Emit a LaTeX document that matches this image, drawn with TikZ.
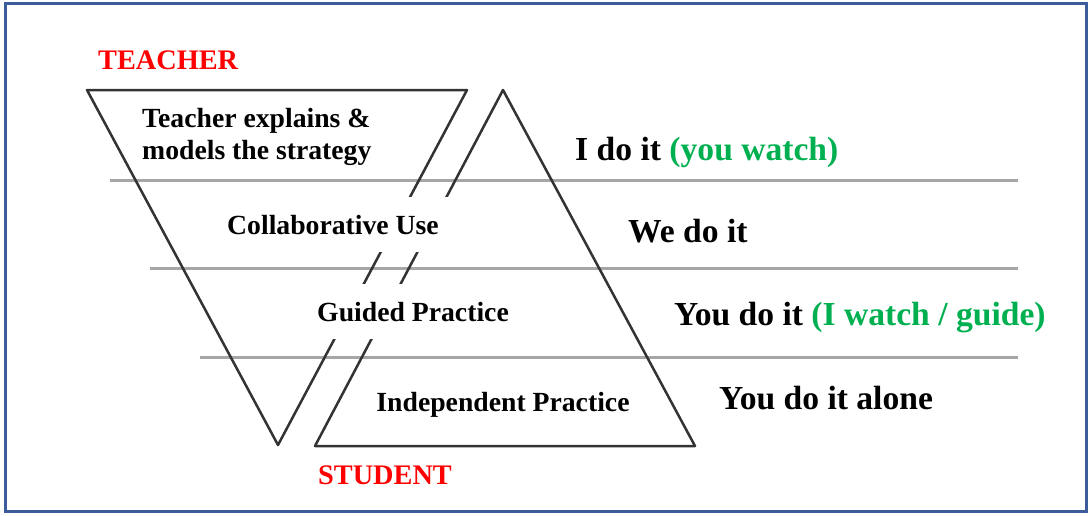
\documentclass[tikz,border=0pt]{standalone}
\usepackage{fontspec}
\setmainfont{Liberation Serif}
\definecolor{frameblue}{RGB}{60,92,156}
\definecolor{docgreen}{RGB}{0,176,80}
\begin{document}
\begin{tikzpicture}[x=1pt, y=-1pt,
  lbl/.style={font=\bfseries\fontsize{27.7}{32}\selectfont, inner sep=0pt},
  stage/.style={lbl, anchor=base, fill=white, inner xsep=10pt, inner ysep=18pt},
  act/.style={font=\bfseries\fontsize{33.6}{38}\selectfont, anchor=base west, inner sep=0pt},
  role/.style={font=\bfseries\fontsize{28.3}{32}\selectfont, text=red, anchor=base west, inner sep=0pt},
  rung/.style={line width=3pt, color=black!35},
  side/.style={line width=2.5pt, color=black!80, line join=round}]

\useasboundingbox (0,0) rectangle (1090,515);
\draw[line width=3pt, color=frameblue] (5.5,3.5) rectangle (1086.5,511.5); %cornice

\coordinate (t1) at (87,90); \coordinate (t2) at (467,90); \coordinate (t3) at (278,445); %teacher
\coordinate (s1) at (503,90); \coordinate (s2) at (695,446); \coordinate (s3) at (315,446); %student

\draw[rung] (110,180) -- (1018,180);
\draw[rung] (150,268) -- (1018,268);
\draw[rung] (200,357) -- (1018,357);

\draw[side] (t1) -- (t2) -- (t3) -- cycle;
\draw[side] (s1) -- (s2) -- (s3) -- cycle;

\node[role] (teacher) at (98,69) {TEACHER};
\node[role] (student) at (318,484) {STUDENT};

\node[lbl, anchor=north west, align=left] (explain) at (142,108) {Teacher explains \&\\models the strategy};
\node[stage] (collab) at (333,234) {Collaborative Use};
\node[stage] (guided) at (413,321) {Guided Practice};
\node[stage] (indep) at (503,411) {Independent Practice};

\node[act] (ido) at (575,160) {I do it \textcolor{docgreen}{(you watch)}};
\node[act] (wedo) at (628,242) {We do it};
\node[act] (youdo) at (674,325) {You do it \textcolor{docgreen}{(I watch / guide)}};
\node[act] (alone) at (719,409) {You do it alone};

\end{tikzpicture}
\end{document}
